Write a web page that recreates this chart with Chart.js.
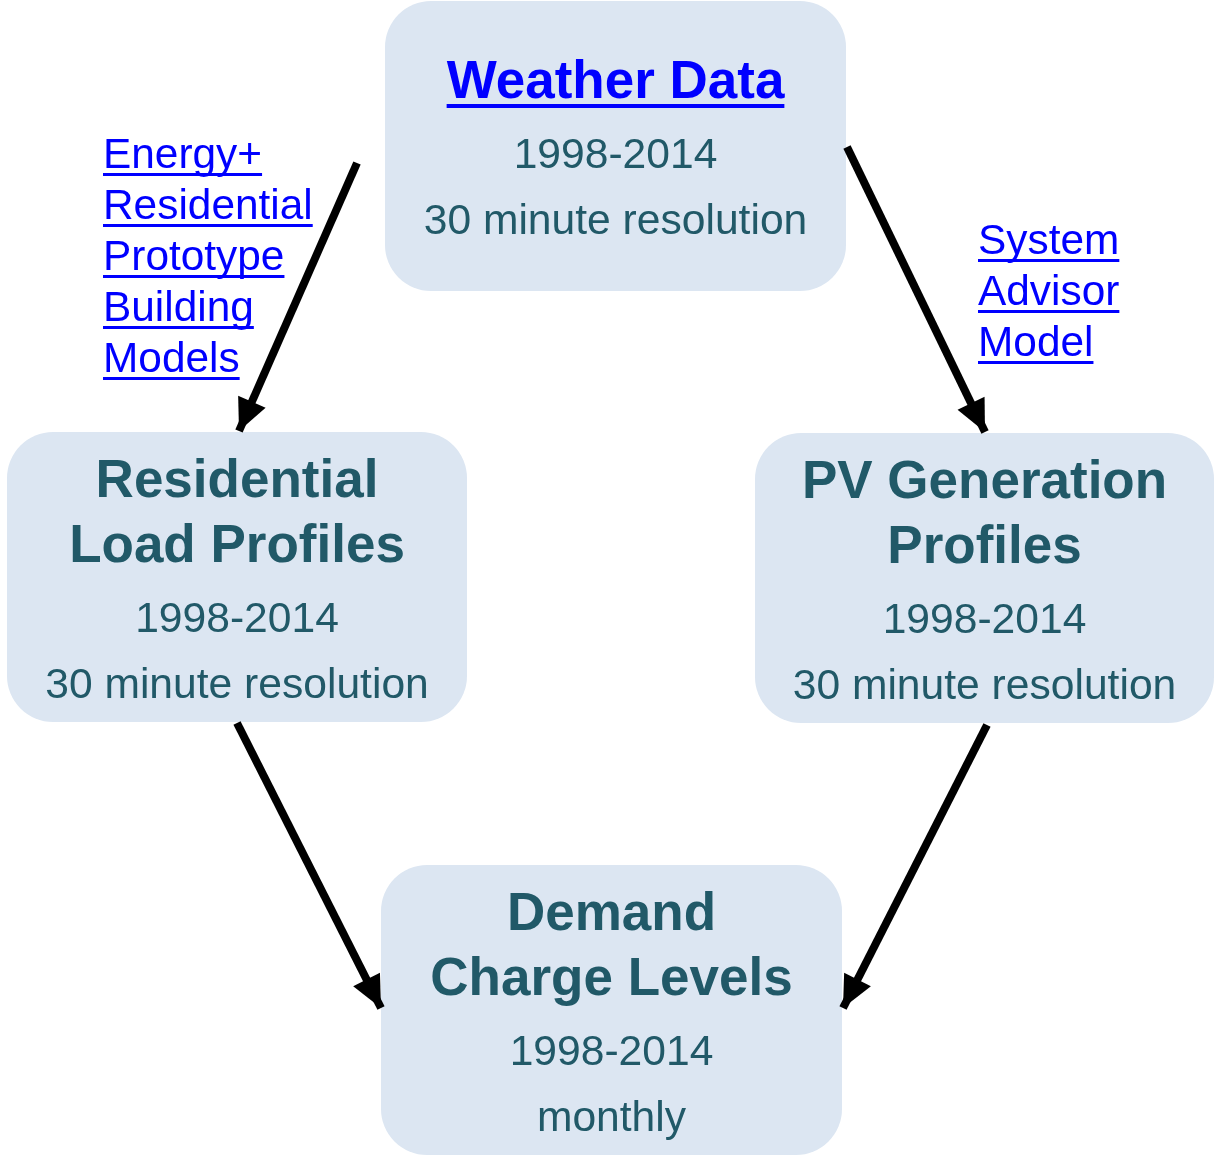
<!DOCTYPE html>
<html>
<head>
<meta charset="utf-8">
<script src="https://cdn.jsdelivr.net/npm/chart.js@4/dist/chart.umd.min.js"></script>
<style>
	body { margin: 0; background: #ffffff; }
	canvas { display: block; }
</style>
</head>
<body>
<canvas id="flow-canvas" width="1214" height="1155"></canvas>
<script>
// diagram units are the same as pixels, y grows downwards
const node_titles = [
	["Weather Data"],
	["Residential", "Load Profiles"],
	["PV Generation", "Profiles"],
	["Demand", "Charge Levels"]
];
const node_subtitles = [
	["1998-2014", "30 minute resolution"],
	["1998-2014", "30 minute resolution"],
	["1998-2014", "30 minute resolution"],
	["1998-2014", "monthly"]
];
const node_left = [385, 7, 755, 381];
const node_right = [846, 467, 1214, 842];
const node_top = [1, 432, 433, 865];
const node_bottom = [291, 722, 723, 1155];
const node_is_link = [true, false, false, false];

const arrow_from = [[357, 163], [847, 147], [237, 723], [987, 725]];
const arrow_to = [[239, 431], [985, 432], [381, 1008], [843, 1008]];

const left_note = ["Energy+", "Residential", "Prototype", "Building", "Models"];
const left_note_x = 103;
const left_note_y = [168, 219, 270, 321, 372];
const right_note = ["System", "Advisor", "Model"];
const right_note_x = 978;
const right_note_y = [254, 305, 356];

const box_fill = "#dce6f2";
const text_color = "#215968";
const link_color = "#0000ff";
const font_family = "'Liberation Sans', Arial, sans-serif";

function underline (ctx, text, x, y, align, offset, thick) {
	let w = ctx.measureText(text).width;
	let x0 = align === "center" ? x - w / 2 : x;
	ctx.fillRect(x0, y + offset, w, thick);
}

const box_plugin = {
	id: "boxes",
	beforeDatasetsDraw (chart) {
		let ctx = chart.ctx;
		let sx = chart.scales.x;
		let sy = chart.scales.y;
		ctx.save();
		ctx.fillStyle = box_fill;
		for (let i = 0; i < node_titles.length; i++) {
			let x0 = sx.getPixelForValue(node_left[i]);
			let x1 = sx.getPixelForValue(node_right[i]);
			let y0 = sy.getPixelForValue(node_top[i]);
			let y1 = sy.getPixelForValue(node_bottom[i]);
			ctx.beginPath();
			ctx.roundRect(x0, y0, x1 - x0, y1 - y0, 46);
			ctx.fill();
		}
		ctx.restore();
	},
	afterDatasetsDraw (chart) {
		let ctx = chart.ctx;
		let sx = chart.scales.x;
		let sy = chart.scales.y;
		ctx.save();
		// arrow heads
		chart.data.datasets.forEach((dataset, i) => {
			let pts = chart.getDatasetMeta(i).data;
			let a = pts[0], b = pts[pts.length - 1];
			let ang = Math.atan2(b.y - a.y, b.x - a.x);
			let len = 32, half = 15;
			ctx.fillStyle = "#000000";
			ctx.beginPath();
			ctx.moveTo(b.x, b.y);
			ctx.lineTo(b.x - len * Math.cos(ang) - half * Math.sin(ang), b.y - len * Math.sin(ang) + half * Math.cos(ang));
			ctx.lineTo(b.x - len * Math.cos(ang) + half * Math.sin(ang), b.y - len * Math.sin(ang) - half * Math.cos(ang));
			ctx.closePath();
			ctx.fill();
		});
		// box texts
		ctx.textAlign = "center";
		ctx.textBaseline = "alphabetic";
		for (let i = 0; i < node_titles.length; i++) {
			let cx = sx.getPixelForValue((node_left[i] + node_right[i]) / 2);
			let lines = [];
			let y = 0;
			node_titles[i].forEach((t, k) => {
				if (k > 0) y += 65;
				lines.push({ t, y, bold: true });
			});
			node_subtitles[i].forEach((t, k) => {
				y += k === 0 ? 70 : 66;
				lines.push({ t, y, bold: false });
			});
			let shift = node_top[i] + 165 - y / 2;
			lines.forEach(l => {
				let py = sy.getPixelForValue(l.y + shift);
				ctx.font = (l.bold ? "bold 53px " : "42.6px ") + font_family;
				if (l.bold && node_is_link[i]) {
					ctx.fillStyle = link_color;
					ctx.fillText(l.t, cx, py);
					underline(ctx, l.t, cx, py, "center", 6, 4);
				} else {
					ctx.fillStyle = text_color;
					ctx.fillText(l.t, cx, py);
				}
			});
		}
		// side notes (links)
		ctx.textAlign = "left";
		ctx.font = "42.4px " + font_family;
		ctx.fillStyle = link_color;
		left_note.forEach((t, k) => {
			let px = sx.getPixelForValue(left_note_x);
			let py = sy.getPixelForValue(left_note_y[k]);
			ctx.fillText(t, px, py);
			underline(ctx, t, px, py, "left", 5, 3);
		});
		right_note.forEach((t, k) => {
			let px = sx.getPixelForValue(right_note_x);
			let py = sy.getPixelForValue(right_note_y[k]);
			ctx.fillText(t, px, py);
			underline(ctx, t, px, py, "left", 5, 3);
		});
		ctx.restore();
	}
};

let arrow_sets = arrow_from.map((from, i) => ({
	label: "arrow " + i,
	data: [{ x: from[0], y: from[1] }, { x: arrow_to[i][0], y: arrow_to[i][1] }],
	showLine: true,
	borderColor: "#000000",
	borderWidth: 8,
	borderCapStyle: "butt",
	pointRadius: 0
}));

let chart = new Chart(document.getElementById("flow-canvas"), {
	type: "scatter",
	data: { datasets: arrow_sets },
	options: {
		responsive: false,
		animation: false,
		devicePixelRatio: 1,
		layout: { padding: 0 },
		scales: {
			x: { type: "linear", min: 0, max: 1214, display: false },
			y: { type: "linear", min: 0, max: 1155, reverse: true, display: false }
		},
		plugins: {
			legend: { display: false },
			tooltip: { enabled: false }
		}
	},
	plugins: [box_plugin]
});
</script>
</body>
</html>
